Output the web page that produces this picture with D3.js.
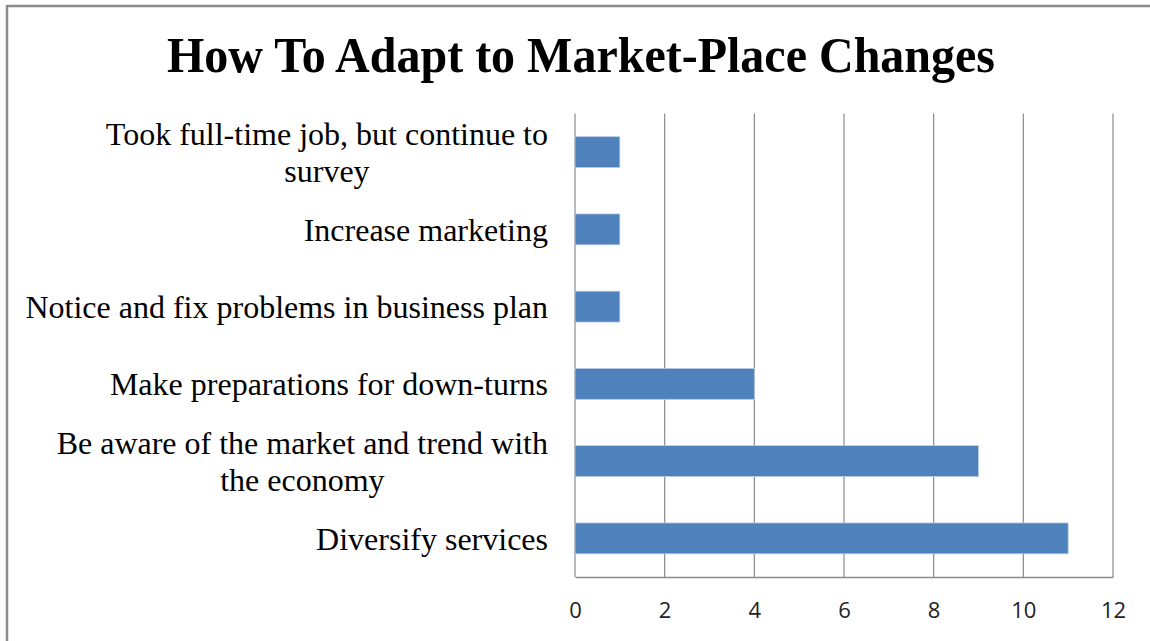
<!DOCTYPE html>
<html>
<head>
<meta charset="utf-8">
<script src="https://cdn.jsdelivr.net/npm/d3@7"></script>
<style>
  html, body { margin: 0; padding: 0; background: #fff; }
  svg { display: block; }
</style>
</head>
<body>
<svg id="chart" width="1150" height="641"></svg>
<script>
// Survey responses: how respondents adapt to market-place changes
const chartTitle = "How To Adapt to Market-Place Changes";
const categories = [
  "Took full-time job, but continue to survey",
  "Increase marketing",
  "Notice and fix problems in business plan",
  "Make preparations for down-turns",
  "Be aware of the market and trend with the economy",
  "Diversify services"
];
const values = [1, 1, 1, 4, 9, 11];
const tickValues = [0, 2, 4, 6, 8, 10, 12];

const svg = d3.select("#chart");
const W = 1150, H = 641;
const plot = { left: 575, right: 1113, top: 113.5, bottom: 577 };

// Outer frame (only top and left edges fall inside the view)
svg.append("line").attr("x1", 7).attr("x2", W).attr("y1", 6).attr("y2", 6)
  .attr("stroke", "#8c8c8c").attr("stroke-width", 2.5);
svg.append("line").attr("x1", 7).attr("x2", 7).attr("y1", 5).attr("y2", H)
  .attr("stroke", "#8c8c8c").attr("stroke-width", 2.5);

const x = d3.scaleLinear().domain([0, 12]).range([plot.left, plot.right]);
const y = d3.scaleBand().domain(categories).range([plot.top, plot.bottom])
  .paddingInner(0.6).paddingOuter(0.3);

// Vertical gridlines
svg.append("g").selectAll("line").data(tickValues).join("line")
  .attr("x1", d => x(d)).attr("x2", d => x(d))
  .attr("y1", plot.top).attr("y2", plot.bottom)
  .attr("stroke", "#8a8a8a").attr("stroke-width", 1.2);

// Bottom axis
const xAxis = d3.axisBottom(x).tickValues(tickValues).tickSize(0).tickPadding(25)
  .tickFormat(d3.format("d"));
const gx = svg.append("g").attr("transform", `translate(0,${plot.bottom})`).call(xAxis);
gx.select(".domain").attr("stroke", "#8a8a8a").attr("stroke-width", 1.5);
gx.selectAll("text").attr("font-family", "'Open Sans', 'Liberation Sans', sans-serif")
  .attr("font-size", 22).attr("fill", "#222");

// Bars
svg.append("g").selectAll("rect").data(categories).join("rect")
  .attr("x", x(0))
  .attr("y", d => y(d))
  .attr("width", (d, i) => x(values[i]) - x(0))
  .attr("height", y.bandwidth())
  .attr("fill", "#4f81bd")
  .attr("stroke", "#b9cde5").attr("stroke-width", 0.8);

// Category labels, wrapped and right-aligned as a centered block
const labelRight = 548, wrapWidth = 529, lineH = 37, labelSize = 32;
const labelFont = "'Liberation Serif', 'Times New Roman', serif";
const measure = svg.append("text").attr("font-family", labelFont).attr("font-size", labelSize)
  .attr("visibility", "hidden");
function textWidth(s) { measure.text(s); return measure.node().getComputedTextLength(); }
function wrap(s) {
  const words = s.split(" "), lines = [];
  let cur = "";
  words.forEach(w => {
    const t = cur ? cur + " " + w : w;
    if (cur && textWidth(t) > wrapWidth) { lines.push(cur); cur = w; } else cur = t;
  });
  lines.push(cur);
  return lines;
}
const labels = svg.append("g");
categories.forEach(c => {
  const lines = wrap(c);
  const blockW = d3.max(lines, textWidth);
  const cx = labelRight - blockW / 2;
  const cy = y(c) + y.bandwidth() / 2;
  const t = labels.append("text").attr("font-family", labelFont).attr("font-size", labelSize)
    .attr("fill", "#000").attr("text-anchor", "middle");
  lines.forEach((ln, k) => {
    t.append("tspan").attr("x", cx)
      .attr("y", cy + (k - (lines.length - 1) / 2) * lineH)
      .attr("dy", "0.35em").text(ln);
  });
});
measure.remove();

// Title
svg.append("text").attr("x", 581).attr("y", 72).attr("text-anchor", "middle")
  .attr("font-family", "'Liberation Serif', 'Times New Roman', serif")
  .attr("font-weight", "bold").attr("font-size", 50)
  .attr("textLength", 828).attr("lengthAdjust", "spacingAndGlyphs")
  .text(chartTitle);
</script>
</body>
</html>
